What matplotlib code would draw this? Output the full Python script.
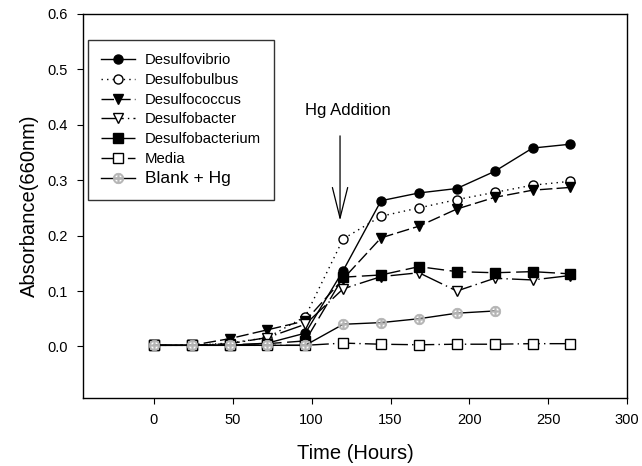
import matplotlib.pyplot as plt
import numpy as np

plt.rcParams['font.family'] = ['Liberation Sans', 'DejaVu Sans']

# tiempos de muestreo (horas)
tiempo = [0, 24, 48, 72, 96, 120, 144, 168, 192, 216, 240, 264]
tiempo_blanco = [0, 24, 48, 72, 96, 120, 144, 168, 192, 216]

desulfovibrio = [0.002, 0.002, 0.002, 0.006, 0.024, 0.137, 0.263, 0.277, 0.285, 0.316, 0.358, 0.365]
desulfobulbus = [0.002, 0.002, 0.006, 0.016, 0.054, 0.194, 0.235, 0.250, 0.265, 0.278, 0.291, 0.298]
desulfococcus = [0.002, 0.002, 0.014, 0.030, 0.046, 0.122, 0.196, 0.217, 0.248, 0.269, 0.282, 0.287]
desulfobacter = [0.002, 0.002, 0.005, 0.016, 0.040, 0.104, 0.126, 0.133, 0.100, 0.123, 0.120, 0.128]
desulfobacterium = [0.002, 0.002, 0.003, 0.005, 0.010, 0.125, 0.129, 0.144, 0.135, 0.133, 0.135, 0.131]
media = [0.002, 0.002, 0.002, 0.002, 0.002, 0.006, 0.004, 0.003, 0.004, 0.004, 0.005, 0.005]
blanco_hg = [0.002, 0.002, 0.002, 0.002, 0.002, 0.040, 0.043, 0.050, 0.060, 0.064]

fig = plt.figure(figsize=(6.42, 4.66), dpi=100)
ax = fig.add_axes([0.129, 0.146, 0.848, 0.824])

ms = 6.5
ax.plot(tiempo, desulfovibrio, color='black', lw=1, ls='-', marker='o', ms=ms,
        mfc='black', mec='black', label='Desulfovibrio')
ax.plot(tiempo, desulfobulbus, color='black', lw=1, ls=(0, (1, 3)), marker='o', ms=ms,
        mfc='white', mec='black', label='Desulfobulbus')
ax.plot(tiempo, desulfococcus, color='black', lw=1, ls=(0, (9, 3)), marker='v', ms=ms + 0.5,
        mfc='black', mec='black', label='Desulfococcus')
ax.plot(tiempo, desulfobacter, color='black', lw=1, ls=(0, (16, 3, 1, 3)), marker='v', ms=ms + 1,
        mfc='white', mec='black', label='Desulfobacter')
ax.plot(tiempo, desulfobacterium, color='black', lw=1, ls=(0, (12, 4)), marker='s', ms=ms,
        mfc='black', mec='black', label='Desulfobacterium')
ax.plot(tiempo, media, color='black', lw=1, ls=(0, (12, 3, 1, 3)), marker='s', ms=ms,
        mfc='white', mec='black', label='Media')
ax.plot(tiempo_blanco, blanco_hg, color='black', lw=1, ls='-', marker='$\\oplus$', ms=7.5,
        mfc='#b4b4b4', mec='#b4b4b4', mew=0.6, label='Blank + Hg')

# flecha de adición de mercurio
ax.annotate('', xy=(118, 0.227), xytext=(118, 0.38),
            arrowprops=dict(arrowstyle='->,head_length=2.2,head_width=0.55', color='black',
                            lw=0.9, shrinkA=0, shrinkB=0))
ax.text(123, 0.425, 'Hg Addition', ha='center', va='center', fontsize=12)

ax.set_xlim(-45, 300)
ax.set_ylim(-0.093, 0.6)
ax.set_xticks(np.arange(0, 301, 50))
ax.set_yticks(np.arange(0, 0.61, 0.1))
ax.set_yticklabels(['0.0', '0.1', '0.2', '0.3', '0.4', '0.5', '0.6'])
ax.tick_params(direction='out', length=4, width=0.8, labelsize=10.5, pad=7)
for s in ax.spines.values():
    s.set_linewidth(1)

ax.set_xlabel('Time (Hours)', fontsize=14.5, labelpad=12)
ax.set_ylabel('Absorbance(660nm)', fontsize=14.5, labelpad=6)

leg = ax.legend(loc='upper left', bbox_to_anchor=(0.009, 0.932), borderaxespad=0,
                fontsize=10.7, handlelength=2.3, frameon=True, fancybox=False,
                edgecolor='black', borderpad=0.9, labelspacing=0.38, handletextpad=0.65)
leg.get_frame().set_linewidth(1)
leg.get_texts()[-1].set_fontsize(12.5)

fig.savefig('out.png', dpi=100)
